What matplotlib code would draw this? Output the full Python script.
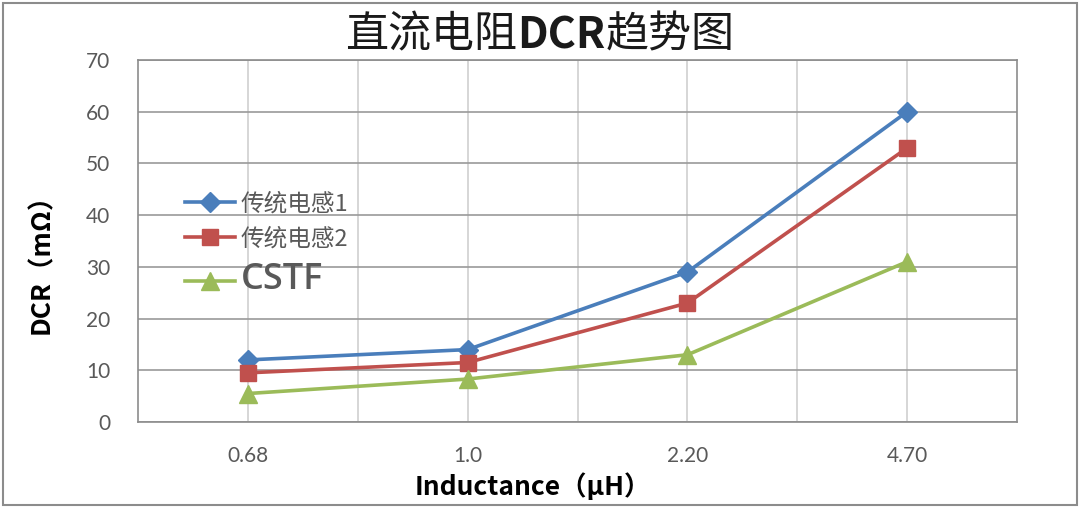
import matplotlib
matplotlib.use("Agg")
import matplotlib.pyplot as plt
from matplotlib.patches import Rectangle

# data
categories = ["0.68", "1.0", "2.20", "4.70"]
series_names = ["传统电感1", "传统电感2", "CSTF"]
trad1 = [12, 14, 29, 60]
trad2 = [9.5, 11.5, 23, 53]
cstf = [5.5, 8.3, 13, 31]

COLORS = ["#4A7EBB", "#C0504D", "#9BBB59"]
MARKERS = ["D", "s", "^"]
MSIZES = [10, 12, 13]

CJK = ["Noto Sans CJK SC", "DejaVu Sans"]
plt.rcParams["font.family"] = ["Lato", "Noto Sans CJK SC", "DejaVu Sans"]

fig = plt.figure(figsize=(10.8, 5.07), dpi=100)
ax = fig.add_axes([0.1278, 0.1677, 0.814, 0.714])

x = list(range(len(categories)))
for vals, name, c, m, ms in zip([trad1, trad2, cstf], series_names, COLORS, MARKERS, MSIZES):
    ax.plot(x, vals, color=c, marker=m, markersize=ms, linewidth=2.6, label=name, zorder=3)

ax.set_xlim(-0.5, len(categories) - 0.5)
ax.set_ylim(0, 70)
ax.set_yticks(range(0, 71, 10))
ax.set_xticks(x)
ax.set_xticklabels(categories)
ax.set_xticks([i + 0.5 for i in x[:-1]], minor=True)

ax.grid(axis="y", color="#9a9a9a", linewidth=1.2)
ax.grid(axis="x", which="both", color="#cfcfcf", linewidth=1.2)
ax.set_axisbelow(True)
ax.tick_params(axis="both", which="both", length=0, labelsize=15, labelcolor="#595959")
ax.tick_params(axis="x", pad=17)
ax.tick_params(axis="y", pad=20)
for s in ax.spines.values():
    s.set_color("#8c8c8c")
    s.set_linewidth(1.2)

ax.set_ylabel("DCR（mΩ）", fontsize=19, fontweight="bold", family=CJK)
ax.yaxis.set_label_coords(-0.094, 0.456)
ax.set_xlabel("Inductance（μH）", fontsize=19, fontweight="bold", family=CJK)
ax.xaxis.set_label_coords(0.449, -0.142)

# title in three pieces so "DCR" can be bold
t1 = fig.text(0, 0.93, "直流电阻", ha="left", va="center", fontsize=31,
              family=CJK, color="#1a1a1a")
t2 = fig.text(0, 0.93, "DCR", ha="left", va="center", fontsize=31,
              family=CJK, fontweight="bold", color="#1a1a1a")
t3 = fig.text(0, 0.93, "趋势图", ha="left", va="center", fontsize=31,
              family=CJK, color="#1a1a1a")
fig.canvas.draw()
r = fig.canvas.get_renderer()
widths = [t.get_window_extent(r).width for t in (t1, t2, t3)]
start = (fig.bbox.width - sum(widths)) / 2
for t, w in zip((t1, t2, t3), widths):
    t.set_x(start / fig.bbox.width)
    start += w

leg = ax.legend(loc="upper left", bbox_to_anchor=(0.040, 0.667), frameon=False,
                borderpad=0, handlelength=2.1, handletextpad=0.25, labelspacing=0.5,
                prop={"family": CJK, "size": 17})
for i, t in enumerate(leg.get_texts()):
    t.set_color("#595959")
    if i == 2:
        t.set_fontsize(26)
        t.set_family(["Open Sans", "DejaVu Sans"])
        t.set_fontweight("semibold")

# outer gray frame like the screenshot border
fig.patches.append(Rectangle((0.003, 0.004), 0.994, 0.99, transform=fig.transFigure,
                             fill=False, edgecolor="#8c8c8c", linewidth=1.5))

fig.savefig("out.png", dpi=100)
